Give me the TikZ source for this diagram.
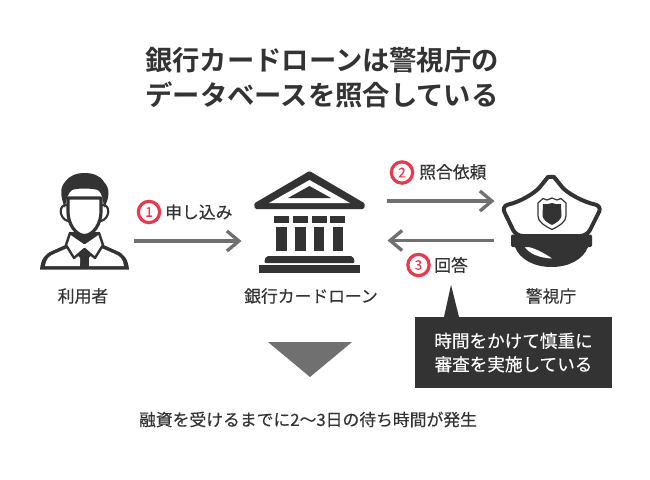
\documentclass[tikz,border=0pt]{standalone}
\usepackage{fontspec}
\setmainfont{Noto Sans CJK JP}[BoldFont={Noto Sans CJK JP Bold}]
\newfontfamily\jpmed{Noto Sans CJK JP}[FakeBold=0.25]
\usetikzlibrary{arrows.meta}
\definecolor{inkdark}{HTML}{333333}
\definecolor{arrowgray}{HTML}{707070}
\definecolor{ringred}{HTML}{E83A4C}
\tikzset{
    flowarrow/.style={arrowgray, line width=2.7pt, -{Straight Barb[length=9pt, width=15pt, line width=2.5pt]}},
    iconfill/.style={fill=inkdark, draw=none},
    iconline/.style={draw=inkdark, line width=2.4pt, fill=white, line join=round},
    numring/.style={circle, draw=ringred, line width=2.4pt, fill=white, minimum size=16pt, inner sep=0pt, text=ringred, font=\jpmed\fontsize{10}{10}\selectfont},
    steplabel/.style={text=inkdark, inner sep=0pt, font=\jpmed\fontsize{12.6}{12.6}\selectfont},
    titletext/.style={text=inkdark, inner sep=0pt, align=center, font=\bfseries\fontsize{20.5}{26.2}\selectfont}
}
\begin{document}
\begin{tikzpicture}[x=0.75pt, y=-0.75pt]
    \useasboundingbox (0,0) rectangle (650,479);
    \fill[white] (0,0) rectangle (650,479);

    % title
    \node[titletext] (title) at (322,77.5) {銀行カードローンは警視庁の\\データベースを照合している};

    % user
    \fill[iconfill] (40,269.5) .. controls (41,259) and (45,254) .. (52,251) -- (70,243) -- (70,232) -- (99,232) -- (99,243) -- (117,251) .. controls (124,254) and (128,259) .. (129,269.5) -- cycle;
    \fill[white] (45,266) .. controls (46,259) and (49,256) .. (54,254) -- (70,247) -- (80,258) -- (80,266) -- cycle;
    \fill[white] (124,266) .. controls (123,259) and (120,256) .. (115,254) -- (99,247) -- (89,258) -- (89,266) -- cycle;
    \draw[iconline, line width=1.8pt] (70,233) -- (66,245) -- (74,258) -- (84.5,249) -- (95,258) -- (103,245) -- (99,233) -- (84.5,243) -- cycle;
    \fill[iconfill] (81.5,251) -- (87.5,251) -- (86.5,256) -- (89,266) -- (80,266) -- (82.5,256) -- cycle;
    \draw[iconline] (68,198) -- (68,212) .. controls (68,224) and (76,235.5) .. (84.5,235.5) .. controls (93,235.5) and (101,224) .. (101,212) -- (101,198) -- cycle;
    \draw[inkdark, line width=1.6pt] (67,205) .. controls (58,204) and (59,219) .. (68,221);
    \draw[inkdark, line width=1.6pt] (102,205) .. controls (111,204) and (110,219) .. (101,221);
    \fill[iconfill] (65,208) .. controls (60,196) and (60,187) .. (65,182) .. controls (70,175) and (77,173) .. (84,173) .. controls (92,173) and (100,175) .. (104,182) .. controls (110,188) and (110,197) .. (104,208) .. controls (103,199) and (102,193) .. (98,190) .. controls (90,188) and (78,188) .. (72,190) .. controls (68,193) and (66,199) .. (65,208) -- cycle;
    \node[steplabel] (userlabel) at (83,296) {利用者};

    % bank
    \fill[iconfill, rounded corners=1pt] (309.5,171) -- (365,203.5) -- (364,209) -- (255,209) -- (254,203.5) -- cycle;
    \fill[white] (309.5,180) -- (350,203) -- (269,203) -- cycle;
    \fill[iconfill] (309.5,186) -- (331,198) -- (288,198) -- cycle;
    \foreach \colx in {281.5,300.5,319.2,337.7} {
        \fill[iconfill] (\colx-7.7,216) rectangle (\colx+7.7,223.3);
        \fill[iconfill] (\colx-5.2,226.7) rectangle (\colx+5.2,251);
    }
    \fill[iconfill, rounded corners=1.5pt] (264,263) -- (266,256) -- (353,256) -- (355,263) -- cycle;
    \fill[iconfill] (259.3,265.3) rectangle (360,272.7);
    \node[steplabel] (banklabel) at (311,296) {銀行カードローン};

    % police cap
    \fill[iconfill] (515,247) .. controls (520,260) and (535,267) .. (551.5,267) .. controls (568,267) and (583,260) .. (588,247) -- cycle;
    \fill[white] (524,246) .. controls (532,247) and (543,252) .. (552,258.5) .. controls (540,258) and (529,254) .. (524,246) -- cycle;
    \draw[iconline, line width=3pt, rounded corners=5pt] (516,236) -- (501.5,206) .. controls (520,202) and (535,193) .. (544,182) .. controls (548,177) and (554,177) .. (558,182) .. controls (567,193) and (583,202) .. (602,206) -- (587,236) -- cycle;
    \fill[iconfill, rounded corners=1pt] (511,234.5) -- (592,234.5) -- (592,247) -- (511,247) -- cycle;
    \path[draw=inkdark, line width=0.9pt, fill=white] (552,198) -- (557,200) -- (561,198.5) -- (566,203) -- (566,216) .. controls (566,222) and (559,226) .. (552,229.5) .. controls (545,226) and (538,222) .. (538,216) -- (538,203) -- (543,198.5) -- (547,200) -- cycle;
    \fill[iconfill] (552,203) -- (556,204) -- (561,204) -- (561.5,216) .. controls (561,220) and (556,223) .. (552,225) .. controls (548,223) and (543,220) .. (542.5,216) -- (543,204) -- (548,204) -- cycle;
    \node[steplabel] (policelabel) at (551,296) {警視庁};

    % arrows
    \coordinate (applystart) at (134,241);
    \coordinate (applyend) at (241.5,241);
    \coordinate (requeststart) at (387,201);
    \coordinate (requestend) at (494.5,201);
    \coordinate (answerstart) at (494,240.5);
    \coordinate (answerend) at (387.5,240.5);
    \draw[flowarrow] (applystart) -- (applyend);
    \draw[flowarrow] (requeststart) -- (requestend);
    \draw[flowarrow] (answerstart) -- (answerend);

    % step labels
    \node[numring] (ringone) at (149,212) {1};
    \node[steplabel, anchor=west] (apply) at (165,212) {申し込み};
    \node[numring] (ringtwo) at (402,172.5) {2};
    \node[steplabel, anchor=west] (request) at (419,172) {照合依頼};
    \node[numring] (ringthree) at (418.5,265) {3};
    \node[steplabel, anchor=west] (answer) at (434,265) {回答};

    % note
    \fill[inkdark] (444,317) -- (451,285) -- (459,317) -- cycle;
    \fill[inkdark] (415,316.7) rectangle (612,387.7);
    \node[text=white, inner sep=0pt, align=center, font=\jpmed\fontsize{13.2}{17.6}\selectfont] (notetext) at (513.5,352.5) {時間をかけて慎重に\\審査を実施している};

    % result
    \fill[arrowgray] (268,342) -- (352,342) -- (310,377) -- cycle;
    \node[steplabel] (resultlabel) at (308,419.5) {融資を受けるまでに2〜3日の待ち時間が発生};
\end{tikzpicture}
\end{document}
